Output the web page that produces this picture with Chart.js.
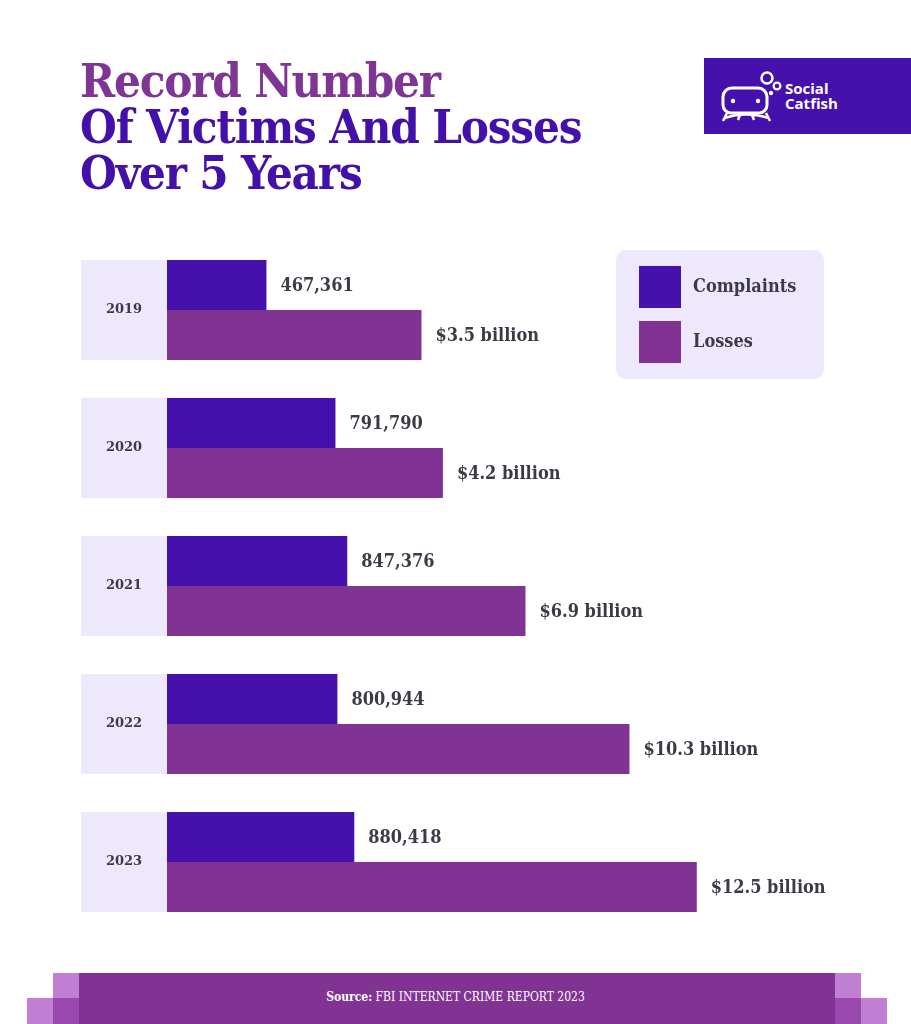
<!DOCTYPE html>
<html>
<head>
<meta charset="utf-8">
<script src="https://cdn.jsdelivr.net/npm/chart.js@4"></script>
<style>
  html, body { margin: 0; padding: 0; background: #fff; }
  #wrap { position: relative; width: 911px; height: 1024px; overflow: hidden; }
  #chart { position: absolute; left: 0; top: 0; }
  .title { position: absolute; left: 80px; top: 58px; font-family: "DejaVu Serif", serif; font-weight: bold;
           font-size: 47px; line-height: 46px; letter-spacing: -1.2px; color: #4410AA; font-stretch: condensed; }
  .title .l1 { color: #7F3593; }
  .logo { position: absolute; left: 704px; top: 58px; width: 207px; height: 76px; background: #4510AB; }
  .logo .txt { position: absolute; left: 81px; top: 23px; color: #fff; font-family: "Open Sans", sans-serif;
               font-weight: bold; font-size: 15px; line-height: 15px; }
  .foot { position: absolute; left: 79px; top: 973px; width: 756px; height: 51px; background: #803393; }
  .sq { position: absolute; width: 26px; height: 26px; background: #C17FD3; }
  .sq.dk { background: #9A4AAE; }
  .src { position: absolute; left: 0; width: 911px; top: 990px; text-align: center; color: #fff;
         font-family: "DejaVu Serif", serif; font-stretch: condensed; font-size: 12px; }
</style>
</head>
<body>
<div id="wrap">
  <canvas id="chart" width="911" height="1024"></canvas>
  <div class="title"><span class="l1">Record Number</span><br>Of Victims And Losses<br>Over 5 Years</div>
  <div class="logo">
    <svg width="80" height="76" style="position:absolute;left:0;top:0">
      <circle cx="63" cy="20" r="5.5" fill="none" stroke="#fff" stroke-width="2.5"/>
      <circle cx="73" cy="28" r="3.4" fill="none" stroke="#fff" stroke-width="2.2"/>
      <circle cx="67" cy="35" r="2.2" fill="#fff"/>
      <path d="M28 30 h26 a9 9 0 0 1 9 9 v8 a8 8 0 0 1 -8 8 h-28 a8 8 0 0 1 -8 -8 v-8 a9 9 0 0 1 9 -9 z" fill="none" stroke="#fff" stroke-width="3"/>
      <circle cx="29" cy="43" r="2.2" fill="#fff"/>
      <circle cx="54" cy="43" r="2.2" fill="#fff"/>
      <path d="M21 60 q20 -7 44 0 M23 55 l-4 8 M62 55 l4 8 M36 57 l-2 5 M48 57 l2 5" fill="none" stroke="#fff" stroke-width="2.5"/>
    </svg>
    <div class="txt">Social<br>Catfish</div>
  </div>
  <div class="sq" style="left:53px;top:973px"></div>
  <div class="sq" style="left:27px;top:998px"></div>
  <div class="sq" style="left:835px;top:973px"></div>
  <div class="sq" style="left:861px;top:998px"></div>
  <div class="foot"></div>
  <div class="sq dk" style="left:53px;top:998px"></div>
  <div class="sq dk" style="left:835px;top:998px"></div>
  <div class="src"><b>Source:</b> FBI INTERNET CRIME REPORT 2023</div>
</div>
<script>
// data
const years = ['2019', '2020', '2021', '2022', '2023'];
const complaints = [467361, 791790, 847376, 800944, 880418];
const losses = [3.5, 4.2, 6.9, 10.3, 12.5];   // billion USD
const seriesNames = ['Complaints', 'Losses'];

const complaintColor = '#4510AB';
const lossColor = '#803393';
const boxColor = '#EEE8FD';
const textColor = '#3D3A45';
const labelFont = 'bold condensed 18px "DejaVu Serif", serif';

// the losses bars in the original are not drawn from zero, so they sit on their own axis
const lossAxisMin = -4.82;
const lossAxisMax = 18.49;

const fmtComplaint = v => v.toLocaleString('en-US');
const fmtLoss = v => '$' + v + ' billion';

const decorations = {
  id: 'decorations',
  beforeDatasetsDraw(chart) {
    const ctx = chart.ctx;
    const y = chart.scales.y;
    const step = y.getPixelForValue(1) - y.getPixelForValue(0);
    ctx.save();
    years.forEach((yr, i) => {
      const cy = y.getPixelForValue(i);
      const h = step * chart.data.datasets[0].categoryPercentage;
      ctx.fillStyle = boxColor;
      ctx.fillRect(81, cy - h / 2, chart.chartArea.left - 81, h);
      ctx.fillStyle = textColor;
      ctx.font = 'bold 13px "DejaVu Serif", serif';
      ctx.textAlign = 'center';
      ctx.textBaseline = 'middle';
      ctx.fillText(yr, (81 + chart.chartArea.left) / 2, cy);
    });
    ctx.restore();
  },
  afterDatasetsDraw(chart) {
    const ctx = chart.ctx;
    ctx.save();
    ctx.font = labelFont;
    ctx.fillStyle = textColor;
    ctx.textBaseline = 'middle';
    ctx.textAlign = 'left';
    const fmts = [fmtComplaint, fmtLoss];
    chart.data.datasets.forEach((ds, di) => {
      chart.getDatasetMeta(di).data.forEach((bar, i) => {
        ctx.fillText(fmts[di](ds.data[i]), bar.x + 14, bar.y + 1);
      });
    });

    // legend box
    ctx.fillStyle = boxColor;
    ctx.beginPath();
    ctx.roundRect(616, 250, 208, 129, 10);
    ctx.fill();
    chart.data.datasets.forEach((ds, di) => {
      const top = 266 + di * 55;
      ctx.fillStyle = ds.backgroundColor;
      ctx.fillRect(639, top, 42, 42);
      ctx.fillStyle = textColor;
      ctx.font = labelFont;
      ctx.fillText(ds.label, 693, top + 21);
    });
    ctx.restore();
  }
};

new Chart(document.getElementById('chart'), {
  type: 'bar',
  data: {
    labels: years,
    datasets: [
      { label: seriesNames[0], data: complaints, backgroundColor: complaintColor, xAxisID: 'x',
        categoryPercentage: 100 / 138, barPercentage: 1 },
      { label: seriesNames[1], data: losses, backgroundColor: lossColor, xAxisID: 'x2', base: lossAxisMin,
        categoryPercentage: 100 / 138, barPercentage: 1 }
    ]
  },
  options: {
    indexAxis: 'y',
    responsive: false,
    animation: false,
    layout: { padding: { left: 167, right: 31, top: 241, bottom: 93 } },
    scales: {
      y: { display: false, grid: { display: false } },
      x: { display: false, min: 0, max: 3351500 },
      x2: { display: false, min: lossAxisMin, max: lossAxisMax }
    },
    plugins: { legend: { display: false }, tooltip: { enabled: false } }
  },
  plugins: [decorations]
});
</script>
</body>
</html>
